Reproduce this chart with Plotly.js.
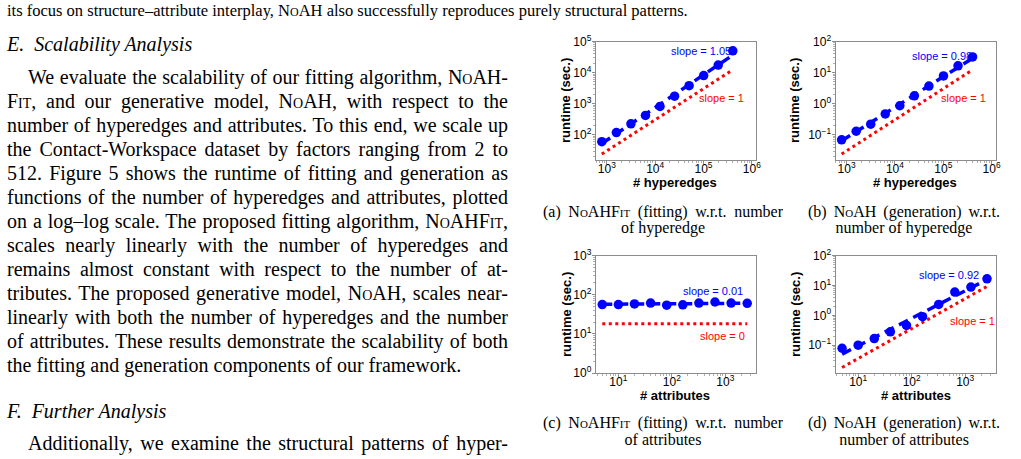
<!DOCTYPE html>
<html>
<head>
<meta charset="utf-8">
<script src="https://cdn.plot.ly/plotly-3.0.1.min.js"></script>
<style>
  html, body { margin: 0; padding: 0; background: #fff; }
  #page { position: relative; width: 1021px; height: 459px; overflow: hidden; background: #fff; }
  #fig { position: absolute; left: 0; top: 0; width: 1021px; height: 459px; }
  .ln {
    position: absolute; left: 7px; width: 501px; height: 24px; line-height: 24px;
    font-family: "Liberation Serif", "Times New Roman", serif; font-size: 20px; color: #000;
    white-space: nowrap; box-sizing: border-box;
  }
  .j { text-align: justify; text-align-last: justify; white-space: normal; overflow: hidden; }
  .ind { padding-left: 21px; }
  .hd { font-style: italic; }
  .sc { font-variant: small-caps; }
  .small { font-size: 16.5px; width: 1010px; }
  .cap {
    position: absolute; height: 18px; line-height: 18px;
    font-family: "Liberation Serif", "Times New Roman", serif; font-size: 16px; color: #000;
    white-space: nowrap;
  }
  .capj { text-align: justify; text-align-last: justify; white-space: normal; overflow: hidden; }
  .capc { text-align: center; }
</style>
</head>
<body>
<div id="page">
  <div id="fig"></div>

  <div class="ln small" style="top:-1px">its focus on structure–attribute interplay, <span class="sc">NoAH</span> also successfully reproduces purely structural patterns.</div>

  <div class="ln hd" style="top:32px">E.&nbsp; Scalability Analysis</div>

  <div class="ln j ind" style="top:65px">We evaluate the scalability of our fitting algorithm, <span class="sc">NoAH</span>-</div>
  <div class="ln j" style="top:89px"><span class="sc">Fit</span>, and our generative model, <span class="sc">NoAH</span>, with respect to the</div>
  <div class="ln j" style="top:113px">number of hyperedges and attributes. To this end, we scale up</div>
  <div class="ln j" style="top:137px">the Contact-Workspace dataset by factors ranging from 2 to</div>
  <div class="ln j" style="top:161px">512. Figure 5 shows the runtime of fitting and generation as</div>
  <div class="ln j" style="top:185px">functions of the number of hyperedges and attributes, plotted</div>
  <div class="ln j" style="top:209px">on a log–log scale. The proposed fitting algorithm, <span class="sc">NoAHFit</span>,</div>
  <div class="ln j" style="top:233px">scales nearly linearly with the number of hyperedges and</div>
  <div class="ln j" style="top:257px">remains almost constant with respect to the number of at-</div>
  <div class="ln j" style="top:281px">tributes. The proposed generative model, <span class="sc">NoAH</span>, scales near-</div>
  <div class="ln j" style="top:305px">linearly with both the number of hyperedges and the number</div>
  <div class="ln j" style="top:329px">of attributes. These results demonstrate the scalability of both</div>
  <div class="ln" style="top:353px">the fitting and generation components of our framework.</div>

  <div class="ln hd" style="top:399px">F.&nbsp; Further Analysis</div>
  <div class="ln j ind" style="top:431px">Additionally, we examine the structural patterns of hyper-</div>

  <!-- sub-figure captions -->
  <div class="cap capj" style="left:543px; width:240px; top:203px">(a) <span class="sc">NoAHFit</span> (fitting) w.r.t. number</div>
  <div class="cap capc" style="left:543px; width:240px; top:219px">of hyperedge</div>
  <div class="cap capj" style="left:808px; width:192px; top:203px">(b) <span class="sc">NoAH</span> (generation) w.r.t.</div>
  <div class="cap capc" style="left:784px; width:240px; top:219px">number of hyperedge</div>
  <div class="cap capj" style="left:543px; width:240px; top:414px">(c) <span class="sc">NoAHFit</span> (fitting) w.r.t. number</div>
  <div class="cap capc" style="left:543px; width:240px; top:431px">of attributes</div>
  <div class="cap capj" style="left:808px; width:192px; top:414px">(d) <span class="sc">NoAH</span> (generation) w.r.t.</div>
  <div class="cap capc" style="left:784px; width:240px; top:431px">number of attributes</div>
</div>

<script>
// Scaled-up Contact-Workspace dataset sizes
const hyperedges = [788, 1576, 3152, 6304, 12608, 25216, 50432, 100864, 201728, 403456];
const attributes = [5, 10, 20, 40, 80, 160, 320, 640, 1280, 2560];

// Runtime in seconds
const fitRuntimeByHyperedges = [60, 118, 225, 420, 820, 1750, 3800, 8000, 17500, 50000];
const genRuntimeByHyperedges = [0.069, 0.13, 0.22, 0.47, 0.86, 1.8, 3.7, 7.8, 16.5, 32];
const fitRuntimeByAttributes = [56, 56, 58, 61, 54, 55, 61, 65, 61, 60];
const genRuntimeByAttributes = [0.079, 0.10, 0.167, 0.28, 0.46, 0.9, 2.3, 6.0, 8.8, 16.6];

// Fitted log–log slopes and reference slopes
const fittedSlopes = [1.05, 0.98, 0.01, 0.92];
const referenceSlopes = [1, 1, 0, 1];
const referenceStart = [24, 0.024, 18, 0.018];

// Tick labels
const hyperedgeTickVals = [1e3, 1e4, 1e5, 1e6];
const hyperedgeTickText = ['10<sup>3</sup>', '10<sup>4</sup>', '10<sup>5</sup>', '10<sup>6</sup>'];
const attributeTickVals = [1e1, 1e2, 1e3];
const attributeTickText = ['10<sup>1</sup>', '10<sup>2</sup>', '10<sup>3</sup>'];
const fitHypTickVals = [1e2, 1e3, 1e4, 1e5];
const fitHypTickText = ['10<sup>2</sup>', '10<sup>3</sup>', '10<sup>4</sup>', '10<sup>5</sup>'];
const genTickVals = [1e-1, 1e0, 1e1, 1e2];
const genTickText = ['10<sup>−1</sup>', '10<sup>0</sup>', '10<sup>1</sup>', '10<sup>2</sup>'];
const fitAttrTickVals = [1e0, 1e1, 1e2, 1e3];
const fitAttrTickText = ['10<sup>0</sup>', '10<sup>1</sup>', '10<sup>2</sup>', '10<sup>3</sup>'];

const panels = [
  { x: hyperedges, y: fitRuntimeByHyperedges },
  { x: hyperedges, y: genRuntimeByHyperedges },
  { x: attributes, y: fitRuntimeByAttributes },
  { x: attributes, y: genRuntimeByAttributes }
];

const W = 1021, H = 459;
const px = v => v / W;
const py = v => 1 - v / H;

const BLUE = '#0000ff', RED = '#ff0000';
const SANS = '"Liberation Sans", Arial, Helvetica, sans-serif';

const traces = [];
panels.forEach((p, i) => {
  const ax = i === 0 ? '' : String(i + 1);
  const lx = p.x.map(Math.log10), ly = p.y.map(Math.log10);
  const mx = lx.reduce((a, b) => a + b, 0) / lx.length;
  const my = ly.reduce((a, b) => a + b, 0) / ly.length;
  const s = fittedSlopes[i];
  const x0 = p.x[0], x1 = p.x[p.x.length - 1];
  const fitY = x => Math.pow(10, my + s * (Math.log10(x) - mx));
  const refY = x => referenceStart[i] * Math.pow(x / x0, referenceSlopes[i]);

  // reference slope line
  traces.push({
    x: [x0, x1], y: [refY(x0), refY(x1)], xaxis: 'x' + ax, yaxis: 'y' + ax,
    mode: 'lines', line: { color: RED, width: 3, dash: '3px,3.5px' }, hoverinfo: 'skip'
  });
  // fitted power-law line
  traces.push({
    x: [x0, x1], y: [fitY(x0), fitY(x1)], xaxis: 'x' + ax, yaxis: 'y' + ax,
    mode: 'lines', line: { color: BLUE, width: 3.5, dash: '10px,6px' }, hoverinfo: 'skip'
  });
  // measured runtimes
  traces.push({
    x: p.x, y: p.y, xaxis: 'x' + ax, yaxis: 'y' + ax,
    mode: 'markers', marker: { color: BLUE, size: 9.5, line: { width: 0 } }
  });
});

function axis(domain, range, tickvals, ticktext, anchor, standoff) {
  return {
    type: 'log', domain, range, anchor,
    tickmode: 'array', tickvals, ticktext,
    showline: true, mirror: true, linecolor: '#8c8c8c', linewidth: 1,
    ticks: 'outside', ticklen: 3, tickwidth: 1, tickcolor: '#8c8c8c',
    ticklabelstandoff: standoff,
    showgrid: false, zeroline: false, automargin: false, fixedrange: true,
    tickfont: { family: SANS, size: 12, color: '#000' },
    minor: { ticks: 'outside', ticklen: 1.5, tickwidth: 0.8, tickcolor: '#9a9a9a', dtick: 'D1', showgrid: false }
  };
}

const colL = [px(595.7), px(755.7)];
const colR = [px(835.5), px(995.5)];
const rowT = [py(160), py(41.5)];
const rowB = [py(373), py(255.5)];

const layout = {
  width: W, height: H,
  margin: { l: 0, r: 0, t: 0, b: 0 },
  paper_bgcolor: 'rgba(0,0,0,0)', plot_bgcolor: '#fff',
  showlegend: false,
  xaxis:  axis(colL, [2.77, 6.08], hyperedgeTickVals, hyperedgeTickText, 'y', -5),
  yaxis:  axis(rowT, [1.19, 5], fitHypTickVals, fitHypTickText, 'x', -2),
  xaxis2: axis(colR, [2.77, 6.08], hyperedgeTickVals, hyperedgeTickText, 'y2', -5),
  yaxis2: axis(rowT, [-1.81, 2], genTickVals, genTickText, 'x2', -2),
  xaxis3: axis(colL, [0.576, 3.567], attributeTickVals, attributeTickText, 'y3', -5),
  yaxis3: axis(rowB, [0, 3], fitAttrTickVals, fitAttrTickText, 'x3', -2),
  xaxis4: axis(colR, [0.576, 3.567], attributeTickVals, attributeTickText, 'y4', -5),
  yaxis4: axis(rowB, [-1.93, 2], genTickVals, genTickText, 'x4', -2),
  annotations: []
};

function note(text, x, y, opts) {
  layout.annotations.push(Object.assign({
    text, x: px(x), y: py(y), xref: 'paper', yref: 'paper',
    xanchor: 'center', yanchor: 'middle', showarrow: false
  }, opts));
}

const slopeFont = c => ({ family: SANS, size: 11, color: c });
note('slope = ' + fittedSlopes[0].toFixed(2), 701, 51, { font: slopeFont(BLUE) });
note('slope = ' + referenceSlopes[0], 721, 98, { font: slopeFont(RED) });
note('slope = ' + fittedSlopes[1].toFixed(2), 942, 56, { font: slopeFont(BLUE) });
note('slope = ' + referenceSlopes[1], 963, 98, { font: slopeFont(RED) });
note('slope = ' + fittedSlopes[2].toFixed(2), 713, 291, { font: slopeFont(BLUE) });
note('slope = ' + referenceSlopes[2], 722, 336, { font: slopeFont(RED) });
note('slope = ' + fittedSlopes[3].toFixed(2), 949, 275, { font: slopeFont(BLUE) });
note('slope = ' + referenceSlopes[3], 972, 321, { font: slopeFont(RED) });

// axis titles
const titleFont = { family: SANS, size: 13, color: '#000', weight: 'bold' };
[[566, 101], [795, 101], [566, 315], [795, 315]].forEach(([x, y]) =>
  note('runtime (sec.)', x, y, { font: titleFont, textangle: -90 }));
note('# hyperedges', 675, 182, { font: titleFont });
note('# hyperedges', 915, 182, { font: titleFont });
note('# attributes', 675, 395, { font: titleFont });
note('# attributes', 916, 395, { font: titleFont });

Plotly.newPlot('fig', traces, layout, { staticPlot: true, displayModeBar: false });
</script>
</body>
</html>
